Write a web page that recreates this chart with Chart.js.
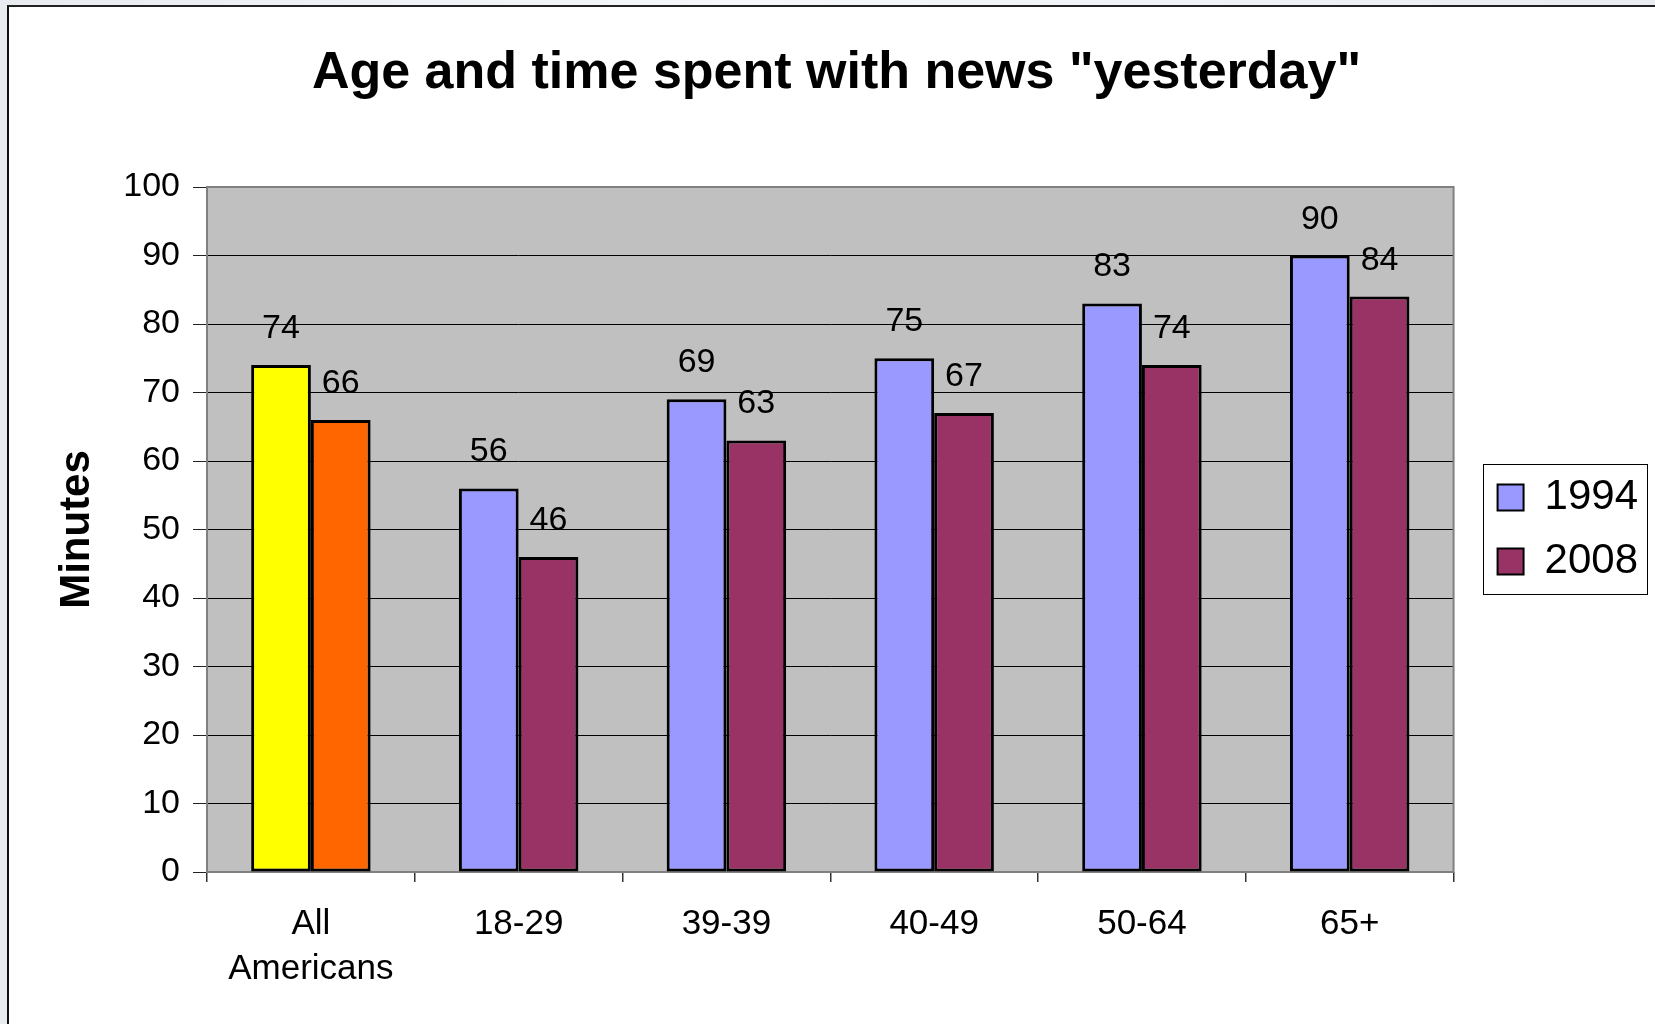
<!DOCTYPE html>
<html>
<head>
<meta charset="utf-8">
<title>Age and time spent with news</title>
<script src="https://cdn.jsdelivr.net/npm/chart.js@4.4.0/dist/chart.umd.min.js"></script>
<style>
  html, body { margin: 0; padding: 0; width: 1655px; height: 1024px; overflow: hidden; }
  body { background: linear-gradient(90deg, #e8ecf1, #f5f7fa 45%, #e9edf2); }
  #frame {
    position: absolute; left: 7px; top: 5px; width: 1670px; height: 1040px;
    background: #fff; border-left: 2px solid #111; border-top: 2px solid #222;
  }
  #wrap { position: absolute; left: 25px; top: 0; width: 1630px; height: 1024px; }
</style>
</head>
<body>
<div id="frame"></div>
<div id="wrap"><canvas id="newsChart" width="1630" height="1024"></canvas></div>
<script>
// minutes spent with news "yesterday", by age group
const categories = [["All", "Americans"], "18-29", "39-39", "40-49", "50-64", "65+"];
const minutes1994 = [74, 56, 69, 75, 83, 90];
const minutes2008 = [66, 46, 63, 67, 74, 84];
const seriesNames = ["1994", "2008"];

// y axis runs 0..100 in steps of 10
const yMin = 0;
const yMax = 100;
const yStep = 10;

// "All Americans" pair is highlighted in yellow / orange
const colors1994 = ["#FFFF00", "#9999FF", "#9999FF", "#9999FF", "#9999FF", "#9999FF"];
const colors2008 = ["#FF6600", "#993366", "#993366", "#993366", "#993366", "#993366"];
const legendColors = ["#9999FF", "#993366"];

const FONT = '"Liberation Sans", Arial, Helvetica, sans-serif';
Chart.defaults.font.family = FONT;
Chart.defaults.color = "#000";

// grey plot area
const plotBackground = {
  id: "plotBackground",
  beforeDraw(chart) {
    const { ctx, chartArea: a } = chart;
    ctx.save();
    ctx.fillStyle = "#C0C0C0";
    ctx.fillRect(a.left, a.top, a.right - a.left, a.bottom - a.top);
    ctx.restore();
  }
};

// grey frame round the plot area, drawn over the gridlines
const plotFrame = {
  id: "plotFrame",
  beforeDatasetsDraw(chart) {
    const { ctx, chartArea: a } = chart;
    ctx.save();
    ctx.strokeStyle = "#808080";
    ctx.lineWidth = 2;
    ctx.strokeRect(a.left, a.top, a.right - a.left, a.bottom - a.top);
    ctx.restore();
  }
};

// value printed above each bar
const barValues = {
  id: "barValues",
  afterDatasetsDraw(chart) {
    const ctx = chart.ctx;
    ctx.save();
    ctx.font = "34px " + FONT;
    ctx.fillStyle = "#000";
    ctx.textAlign = "center";
    ctx.textBaseline = "alphabetic";
    chart.data.datasets.forEach((ds, i) => {
      chart.getDatasetMeta(i).data.forEach((bar, j) => {
        ctx.fillText(String(ds.data[j]), bar.x, bar.y - 27);
      });
    });
    ctx.restore();
  }
};

// box round the legend entries
const legendFrame = {
  id: "legendFrame",
  afterDraw(chart) {
    const boxes = chart.legend && chart.legend.legendHitBoxes;
    if (!boxes || !boxes.length) return;
    const first = boxes[0];
    const last = boxes[boxes.length - 1];
    const x0 = first.left - 15;
    const x1 = first.left + first.width + 9;
    const y0 = first.top - 13;
    const y1 = last.top + last.height + 11;
    const ctx = chart.ctx;
    ctx.save();
    ctx.strokeStyle = "#000";
    ctx.lineWidth = 1;
    ctx.strokeRect(Math.round(x0) + 0.5, Math.round(y0) + 0.5, Math.round(x1 - x0), Math.round(y1 - y0));
    ctx.restore();
  }
};

new Chart(document.getElementById("newsChart"), {
  type: "bar",
  data: {
    labels: categories,
    datasets: [
      {
        label: seriesNames[0],
        data: minutes1994,
        backgroundColor: colors1994,
        borderColor: "#000",
        borderWidth: 3,
        borderSkipped: false,
        categoryPercentage: 0.575,
        barPercentage: 1
      },
      {
        label: seriesNames[1],
        data: minutes2008,
        backgroundColor: colors2008,
        borderColor: "#000",
        borderWidth: 3,
        borderSkipped: false,
        categoryPercentage: 0.575,
        barPercentage: 1
      }
    ]
  },
  options: {
    responsive: false,
    animation: false,
    layout: { padding: { right: 7 } },
    plugins: {
      title: {
        display: true,
        text: 'Age and time spent with news "yesterday"',
        color: "#000",
        font: { size: 52, weight: "bold", lineHeight: 1.2 },
        padding: { top: 42, bottom: 82.6 }
      },
      legend: {
        position: "right",
        fullSize: false,
        align: "center",
        labels: {
          font: { size: 42 },
          color: "#000",
          boxWidth: 26,
          boxHeight: 26,
          padding: 22,
          generateLabels: () => seriesNames.map((name, i) => ({
            text: name,
            fillStyle: legendColors[i],
            strokeStyle: "#000",
            lineWidth: 2,
            datasetIndex: i
          }))
        }
      },
      tooltip: { enabled: false }
    },
    scales: {
      x: {
        grid: {
          display: true,
          drawOnChartArea: false,
          offset: true,
          tickLength: 10,
          color: "#333",
          lineWidth: 1.5
        },
        border: { display: false },
        ticks: {
          font: { size: 35, lineHeight: 1.31 },
          color: "#000",
          padding: 19,
          maxRotation: 0,
          autoSkip: false
        },
        afterFit(scale) { scale.height = 152; }
      },
      y: {
        min: yMin,
        max: yMax,
        grid: {
          color: "#000",
          lineWidth: 1,
          tickLength: 14,
          tickColor: "#222"
        },
        border: { display: false },
        ticks: {
          stepSize: yStep,
          font: { size: 34 },
          color: "#000",
          padding: 13
        },
        title: {
          display: true,
          text: "Minutes",
          color: "#000",
          font: { size: 42, weight: "bold", lineHeight: 1.2 },
          padding: { top: 27, bottom: 0 }
        },
        afterFit(scale) { scale.width = 182; }
      },
      // empty strip between the plot and the legend
      spacer: {
        type: "linear",
        position: "right",
        display: true,
        grid: { display: false },
        border: { display: false },
        ticks: { display: false },
        afterFit(scale) { scale.width = 22; }
      }
    }
  },
  plugins: [plotBackground, plotFrame, barValues, legendFrame]
});
</script>
</body>
</html>
